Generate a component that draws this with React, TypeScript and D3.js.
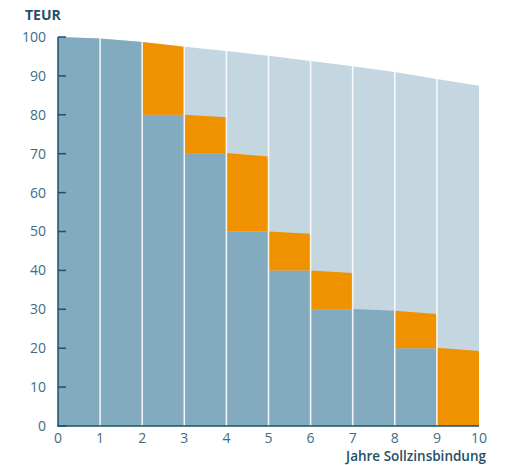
import React from "react";
import * as d3 from "d3";

const years = [0, 1, 2, 3, 4, 5, 6, 7, 8, 9, 10];
const curve = [100, 99.6, 98.7, 97.5, 96.4, 95.2, 93.8, 92.5, 91.0, 89.2, 87.5];
const darkStart = [100, 99.6, 80, 70, 50, 40, 30, 30.1, 20, 0];
const darkEnd = [99.6, 98.7, 80, 70, 50, 40, 30, 29.6, 20, 0];
const orangeStart: (number | null)[] = [null, null, 98.7, 80, 70.2, 50, 40, null, 29.6, 20.1];
const orangeEnd: (number | null)[] = [null, null, 97.5, 79.4, 69.3, 49.4, 39.3, null, 28.8, 19.3];
const yTicks = [0, 10, 20, 30, 40, 50, 60, 70, 80, 90, 100];
const xTicks = [0, 1, 2, 3, 4, 5, 6, 7, 8, 9, 10];

const W = 506;
const H = 465;
const DARK = "#83abbf";
const LIGHT = "#c4d7e1";
const ORANGE = "#f09100";
const AXIS = "#1f5066";
const LABEL = "#3d6e84";
const FONT = "'Open Sans', 'Noto Sans', sans-serif";

export default function App() {
  const x = d3.scaleLinear().domain([0, 10]).range([58, 479]);
  const y = d3.scaleLinear().domain([0, 100]).range([426, 37]);

  const area = d3
    .area<number>()
    .x((_, i) => x(years[i]))
    .y0(y(0))
    .y1((d) => y(d));

  const quad = (x0: number, x1: number, b0: number, b1: number, t0: number, t1: number) =>
    `M${x(x0)},${y(b0)}L${x(x1)},${y(b1)}L${x(x1)},${y(t1)}L${x(x0)},${y(t0)}Z`;

  const segs = years.slice(0, 10);

  return (
    <div style={{ position: "absolute", left: 0, top: 0 }}>
      <svg width={W} height={H} style={{ display: "block" }} fontFamily={FONT}>
        <path d={area(curve) || ""} fill={LIGHT} />
        {segs.map((yr, i) => (
          <path key={"d" + i} d={quad(yr, yr + 1, 0, 0, darkStart[i], darkEnd[i])} fill={DARK} />
        ))}
        {segs.map((yr, i) => {
          const os = orangeStart[i];
          const oe = orangeEnd[i];
          if (os == null || oe == null) return null;
          return (
            <path key={"o" + i} d={quad(yr, yr + 1, darkEnd[i], darkEnd[i], os, oe)} fill={ORANGE} />
          );
        })}
        {years.slice(1, 10).map((yr, i) => (
          <line
            key={"v" + i}
            x1={x(yr)}
            x2={x(yr)}
            y1={y(0)}
            y2={y(curve[yr]) - 1}
            stroke="#ffffff"
            strokeOpacity={0.85}
            strokeWidth={1.6}
          />
        ))}
        {/* axes */}
        <line x1={x(0)} x2={x(0)} y1={y(0)} y2={y(100)} stroke={AXIS} strokeWidth={1.5} />
        <line x1={x(0) - 0.75} x2={x(10)} y1={y(0)} y2={y(0)} stroke={AXIS} strokeWidth={1.5} />
        {yTicks.map((t) => (
          <g key={"yt" + t}>
            <line x1={x(0)} x2={x(0) + 8} y1={y(t)} y2={y(t)} stroke={AXIS} strokeWidth={1.5} />
            <text x={46} y={y(t)} dy="0.35em" textAnchor="end" fontSize={14} fill={LABEL}>
              {t}
            </text>
          </g>
        ))}
        {xTicks.map((t) => (
          <text key={"xt" + t} x={x(t)} y={443} textAnchor="middle" fontSize={14} fill={LABEL}>
            {t}
          </text>
        ))}
        <text x={25} y={20} fontSize={14} fontWeight="bold" fill={AXIS}>
          TEUR
        </text>
        <text x={486} y={461} textAnchor="end" fontSize={13.5} fontWeight={600} fill={AXIS}>
          Jahre Sollzinsbindung
        </text>
      </svg>
    </div>
  );
}
